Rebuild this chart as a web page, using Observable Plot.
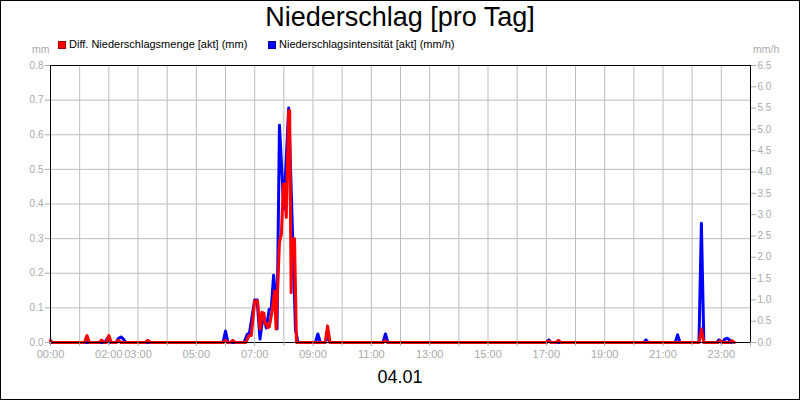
<!DOCTYPE html>
<html>
<head>
<meta charset="utf-8">
<script src="https://cdn.jsdelivr.net/npm/d3@7"></script>
<script src="https://cdn.jsdelivr.net/npm/@observablehq/plot@0.6"></script>
<style>
  html, body { margin: 0; padding: 0; background: #fff; }
  #wrap { position: relative; width: 800px; height: 400px; overflow: hidden; background: #fff;
          font-family: "Liberation Sans", Arial, sans-serif; }
  #wrap svg { position: absolute; left: 0; top: 0; }
  .abs { position: absolute; white-space: nowrap; line-height: 1; }
  #title { left: 0; width: 800px; text-align: center; top: 4px; font-size: 27px; color: #000; }
  .leg { top: 39px; font-size: 11px; color: #000; }
  .sw { position: absolute; top: 41px; width: 6px; height: 6px; }
  .unit { top: 44px; font-size: 10.5px; color: #aaa; }
  #date { left: 0; width: 800px; text-align: center; top: 368px; font-size: 18px; color: #000; }
  #border { position: absolute; left: 0; top: 0; width: 800px; height: 400px; box-sizing: border-box;
            border: 1px solid #000; pointer-events: none; }
</style>
</head>
<body>
<div id="wrap">
  <div id="plot"></div>
  <div class="abs" id="title"></div>
  <div class="sw" style="left:58px; background:#ff0000; border:1px solid #a00000;"></div>
  <div class="abs leg" id="leg1" style="left:69px;"></div>
  <div class="sw" style="left:268px; background:#0000ff; border:1px solid #0000a0;"></div>
  <div class="abs leg" id="leg2" style="left:279px;"></div>
  <div class="abs unit" id="unitL" style="left:32px;"></div>
  <div class="abs unit" id="unitR" style="left:753px;"></div>
  <div class="abs" id="date"></div>
  <div id="border"></div>
</div>
<script>
// ---- texts ----
const titleText = "Niederschlag [pro Tag]";
const seriesNames = ["Diff. Niederschlagsmenge [akt] (mm)", "Niederschlagsintensität [akt] (mm/h)"];
const unitLeft = "mm";
const unitRight = "mm/h";
const dateLabel = "04.01";

// ---- axes ----
const xTickLabels = ["00:00","02:00","03:00","05:00","07:00","09:00","11:00","13:00","15:00","17:00","19:00","21:00","23:00"];
const leftTicks = [0, 0.1, 0.2, 0.3, 0.4, 0.5, 0.6, 0.7, 0.8];
const rightTicks = [0, 0.5, 1.0, 1.5, 2.0, 2.5, 3.0, 3.5, 4.0, 4.5, 5.0, 5.5, 6.0, 6.5];
const leftMax = 0.8;
const rightMax = 6.5;

// ---- series: Diff. Niederschlagsmenge (mm) ----
const redTimes = ["00:00","00:04",
  "01:10","01:15","01:20","01:40","01:45","01:50","01:55","02:00","02:05",
  "02:15","02:20","02:25","03:15","03:20","03:25",
  "05:55","06:00","06:05","06:10","06:15","06:20",
  "06:42","06:48","06:53","07:00","07:06","07:11","07:15","07:19","07:21","07:24","07:27","07:30",
  "07:36","07:41","07:44","07:51","07:55","07:59","08:02","08:05","08:10","08:12","08:15","08:17","08:22","08:26",
  "09:25","09:30","09:35","11:24","11:29","11:34",
  "17:00","17:05","17:10","17:20","17:25","17:30",
  "22:14","22:19","22:24","22:53","22:58","23:03","23:17","23:22","23:27"];
const redValues = [0.006,0,
  0,0.02,0,0,0.007,0,0,0.02,0,
  0,0.006,0,0,0.006,0,
  0,0.006,0,0,0.006,0,
  0,0.02,0.02,0.12,0.12,0.039,0.087,0.085,0.053,0.056,0.043,0.045,
  0.092,0.149,0.039,0.289,0.313,0.457,0.457,0.361,0.669,0.669,0.144,0.3,0.3,0,
  0,0.048,0,0,0.005,0,
  0,0.004,0,0,0.006,0,
  0,0.039,0,0,0.005,0,0,0.005,0];

// ---- series: Niederschlagsintensität (mm/h) ----
const blueTimes = ["00:00",
  "01:52","01:57","02:02","02:15","02:20","02:25","02:30","02:35",
  "05:55","06:00","06:05",
  "06:38","06:45","06:49","07:00","07:05","07:11","07:17","07:19","07:24","07:30","07:34","07:39","07:42","07:46",
  "07:51","08:00","08:10","08:24","08:29",
  "09:05","09:10","09:15","09:25","09:30","09:35",
  "11:24","11:29","11:34",
  "17:00","17:05","17:10","20:20","20:25","20:30","21:25","21:30","21:35",
  "22:14","22:19","22:24","22:50","22:55","23:00","23:03","23:07","23:12","23:17","23:21"];
const blueValues = [0,
  0,0.1,0,0,0.1,0.13,0.08,0,
  0,0.27,0,
  0,0.2,0.2,1.0,1.0,0.08,0.63,0.6,0.34,0.78,0.78,1.58,1.2,0.32,
  5.1,3.13,5.5,0.3,0,
  0,0.2,0,0,0.15,0,
  0,0.2,0,
  0,0.06,0,0,0.06,0,0,0.18,0,
  0,2.8,0,0,0.06,0,0,0.08,0.1,0.06,0];

// ---- build ----
const toMin = s => { const [h, m] = s.split(":").map(Number); return h * 60 + m; };
const red = redTimes.map((t, i) => ({t: toMin(t), v: redValues[i]}));
const blue = blueTimes.map((t, i) => ({t: toMin(t), v: blueValues[i]}));
const hours = d3.range(0, 25).map(h => h * 60);
const labelMins = new Map(xTickLabels.map(l => [toMin(l), l]));
const scaleR = leftMax / rightMax;
const gray = "#aaaaaa";

const chart = Plot.plot({
  width: 800,
  height: 400,
  marginLeft: 50,
  marginRight: 50,
  marginTop: 65,
  marginBottom: 58,
  x: {domain: [0, 1440]},
  y: {domain: [0, leftMax]},
  style: {fontFamily: "'Liberation Sans', Arial, sans-serif", fontSize: "10px", background: "transparent", overflow: "visible"},
  marks: [
    Plot.gridY(leftTicks, {stroke: "#bdbdbd", strokeOpacity: 1, strokeWidth: 1}),
    Plot.gridX(hours, {stroke: "#bdbdbd", strokeOpacity: 1, strokeWidth: 1}),
    Plot.line(blue, {x: "t", y: d => d.v * scaleR, stroke: "#0000ff", strokeWidth: 3}),
    Plot.line(red, {x: "t", y: "v", stroke: "#ff0000", strokeWidth: 3}),
    Plot.frame({stroke: "#000", strokeWidth: 1}),
    Plot.axisY(leftTicks, {anchor: "left", tickSize: 5, tickPadding: 2, color: gray, fontSize: 10,
      tickFormat: d => d.toFixed(1), label: null}),
    Plot.axisY(rightTicks.map(v => v * scaleR), {anchor: "right", tickSize: 5, tickPadding: 2, color: gray, fontSize: 10,
      tickFormat: d => (d / scaleR).toFixed(1), label: null}),
    Plot.axisX(hours, {anchor: "bottom", tickSize: 4, tickPadding: 4, color: gray, fontSize: 11,
      tickFormat: d => labelMins.get(d) || "", label: null})
  ]
});
document.getElementById("plot").appendChild(chart);

document.getElementById("title").textContent = titleText;
document.getElementById("leg1").textContent = seriesNames[0];
document.getElementById("leg2").textContent = seriesNames[1];
document.getElementById("unitL").textContent = unitLeft;
document.getElementById("unitR").textContent = unitRight;
document.getElementById("date").textContent = dateLabel;
</script>
</body>
</html>
